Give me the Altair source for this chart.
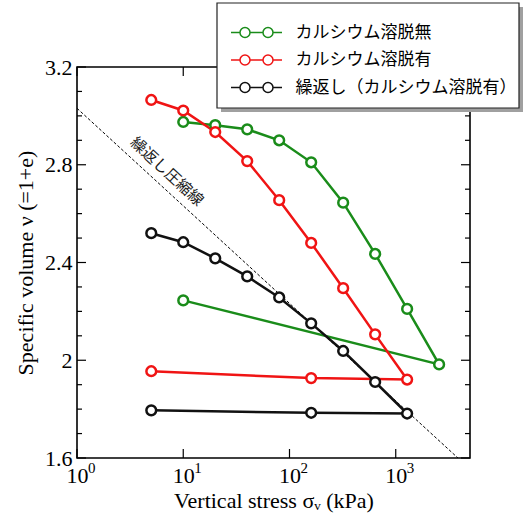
import altair as alt
import pandas as pd

# ---------------- data ----------------
series = ["カルシウム溶脱無", "カルシウム溶脱有", "繰返し（カルシウム溶脱有）"]
colors = ["#1a8c1a", "#f01414", "#111111"]

sigma_green = [10, 20, 40, 80, 160, 320, 640, 1280, 2560, 10]
v_green = [2.975, 2.962, 2.945, 2.900, 2.810, 2.645, 2.435, 2.210, 1.983, 2.245]

sigma_red = [5, 10, 20, 40, 80, 160, 320, 640, 1280, 160, 5]
v_red = [3.065, 3.022, 2.934, 2.815, 2.655, 2.480, 2.295, 2.106, 1.921, 1.927, 1.955]

sigma_black = [5, 10, 20, 40, 80, 160, 320, 640, 1280, 160, 5]
v_black = [2.520, 2.483, 2.417, 2.343, 2.257, 2.151, 2.038, 1.911, 1.782, 1.785, 1.795]

# repeated compression line (dashed)
ncl_sigma = [1, 3850]
ncl_v = [3.031, 1.6]
ncl_label = ["繰返し圧縮線"]
ncl_label_sigma = [7.0]
ncl_label_v = [2.772]

x_ticks = [1, 10, 100, 1000]
x_tick_base = ["10", "10", "10", "10"]
x_tick_exp = ["0", "1", "2", "3"]
y_major = [1.6, 2.0, 2.4, 2.8, 3.2]
y_minor = [1.7, 1.8, 1.9, 2.1, 2.2, 2.3, 2.5, 2.6, 2.7, 2.9, 3.0, 3.1]

# ---------------- tables ----------------
rows = []
for name, xs, ys in zip(series, [sigma_green, sigma_red, sigma_black],
                        [v_green, v_red, v_black]):
    for i, (s, v) in enumerate(zip(xs, ys)):
        rows.append({"series": name, "sigma": s, "v": v, "order": i})
df = pd.DataFrame(rows)
ncl_df = pd.DataFrame({"sigma": ncl_sigma, "v": ncl_v})
lab_df = pd.DataFrame({"sigma": ncl_label_sigma, "v": ncl_label_v, "t": ncl_label})
ymaj_df = pd.DataFrame({"v": y_major})
ymin_df = pd.DataFrame({"v": y_minor})
xt_df = pd.DataFrame({"sigma": x_ticks, "base": x_tick_base, "exp": x_tick_exp})

W, H = 393, 391
serif = "Liberation Serif"
jp = "Noto Sans CJK JP"
XMAX = 5000.0

xscale = alt.Scale(type="log", domain=[1, XMAX], nice=False)
yscale = alt.Scale(domain=[1.6, 3.2], nice=False, zero=False)


def px_to_sigma(px):
    return XMAX ** (px / W)


def px_to_v(py):
    return 3.2 - py * 1.6 / H


# legend frame and its drop shadow (decoration, expressed through the scales)
box_df = pd.DataFrame({"sigma": [px_to_sigma(140)], "sigma2": [px_to_sigma(442)],
                       "v": [px_to_v(-64)], "v2": [px_to_v(41)]})
shadow_df = pd.DataFrame({"sigma": [px_to_sigma(144)], "sigma2": [px_to_sigma(446)],
                          "v": [px_to_v(-60)], "v2": [px_to_v(45)]})

X = alt.X("sigma:Q", scale=xscale, title="Vertical stress  σᵥ (kPa)",
          axis=alt.Axis(values=x_ticks, labelExpr="'10'", grid=False,
                        ticks=False, domain=False, labelPadding=7,
                        labelFont=serif, labelFontSize=22, labelColor="black",
                        labelAlign="center", labelOverlap=False,
                        titleFont=serif, titleFontSize=22, titleFontWeight="normal",
                        titleColor="black", titleX=W / 2, titleY=42,
                        titleBaseline="middle"))
Y = alt.Y("v:Q", scale=yscale, title="Specific volume ν (=1+e)",
          axis=alt.Axis(values=y_major,
                        labelExpr="datum.value == 2 ? '2' : format(datum.value, '.1f')",
                        grid=False, ticks=False, domain=False, labelPadding=5,
                        labelFont=serif, labelFontSize=22, labelColor="black",
                        titleFont=serif, titleFontSize=22, titleFontWeight="normal",
                        titleColor="black", titleX=-52, titleY=H / 2,
                        titleBaseline="middle", titleAngle=-90))

legend_path = ("M-2.55,0H-1.65 M-0.65,0H0.65 M1.65,0H2.55 "
               "M-0.65,0A0.5,0.5 0 1 1 -1.65,0A0.5,0.5 0 1 1 -0.65,0 "
               "M1.65,0A0.5,0.5 0 1 1 0.65,0A0.5,0.5 0 1 1 1.65,0")

S = alt.Stroke("series:N", scale=alt.Scale(domain=series, range=colors),
               legend=alt.Legend(title=None,
                                 orient="none", legendX=138, legendY=-62,
                                 symbolType=legend_path, symbolSize=400,
                                 symbolStrokeWidth=1.5, symbolFillColor="white",
                                 symbolOffset=14, labelOffset=28,
                                 labelFont=jp, labelFontSize=17, labelColor="black",
                                 labelLimit=400, padding=16.5, rowPadding=8.5))

shadow = alt.Chart(shadow_df).mark_rect(color="#a0a0a0").encode(
    x=X, x2="sigma2:Q", y=Y, y2="v2:Q")
box = alt.Chart(box_df).mark_rect(fill="white", stroke="#222222",
                                  strokeWidth=1.2).encode(
    x=X, x2="sigma2:Q", y=Y, y2="v2:Q")

ncl = alt.Chart(ncl_df).mark_line(color="black", strokeWidth=1,
                                  strokeDash=[3, 2], clip=True).encode(x=X, y=Y)

lines = alt.Chart(df).mark_line(strokeWidth=2.5).encode(
    x=X, y=Y, stroke=S, order="order:Q")

points = alt.Chart(df).mark_point(shape="circle", size=95, strokeWidth=2.5,
                                  opacity=1).encode(
    x=X, y=Y, stroke=S, fill=alt.value("white"), fillOpacity=alt.value(1))

label = alt.Chart(lab_df).mark_text(angle=42.6, font=jp, fontSize=15.5,
                                    color="#1a1a1a", align="center",
                                    baseline="middle").encode(x=X, y=Y, text="t:N")

exps = alt.Chart(xt_df).mark_text(font=serif, fontSize=15, color="black",
                                  align="left", baseline="middle", dx=11).encode(
    x=X, y=alt.value(H + 10), text="exp:N")

tick_w = 1.2
yl_maj = alt.Chart(ymaj_df).mark_rule(color="black", strokeWidth=tick_w).encode(
    y=Y, x=alt.value(0), x2=alt.value(9))
yr_maj = alt.Chart(ymaj_df).mark_rule(color="black", strokeWidth=tick_w).encode(
    y=Y, x=alt.value(W - 9), x2=alt.value(W))
yl_min = alt.Chart(ymin_df).mark_rule(color="black", strokeWidth=tick_w).encode(
    y=Y, x=alt.value(0), x2=alt.value(5))
yr_min = alt.Chart(ymin_df).mark_rule(color="black", strokeWidth=tick_w).encode(
    y=Y, x=alt.value(W - 5), x2=alt.value(W))
xb = alt.Chart(xt_df).mark_rule(color="black", strokeWidth=tick_w).encode(
    x=X, y=alt.value(H - 9), y2=alt.value(H))
xt = alt.Chart(xt_df).mark_rule(color="black", strokeWidth=tick_w).encode(
    x=X, y=alt.value(0), y2=alt.value(9))

chart = alt.layer(
    yl_maj, yr_maj, yl_min, yr_min, xb, xt, exps, ncl, label,
    lines, points, shadow, box
).properties(
    width=W, height=H,
    autosize=alt.AutoSizeParams(type="none"),
    padding={"left": 77, "top": 67, "right": 53, "bottom": 64},
    background="white",
).configure_view(stroke="black", strokeWidth=1.6)

chart.save("out.html", embed_options={"renderer": "svg", "actions": False})
